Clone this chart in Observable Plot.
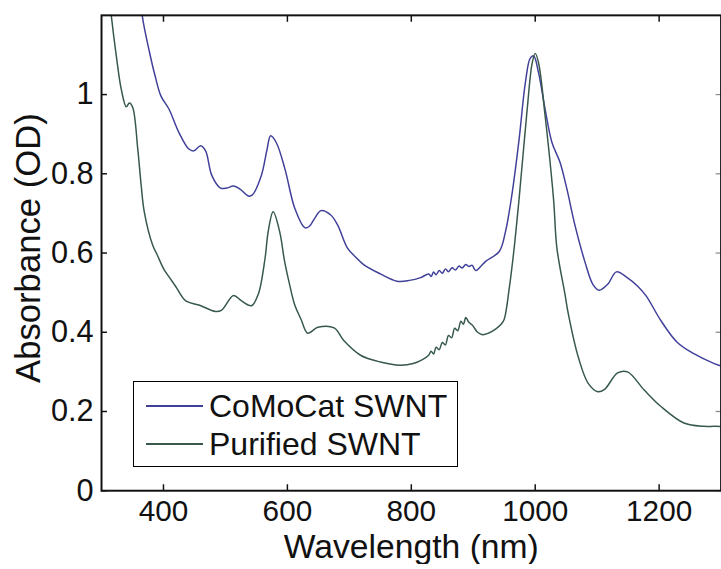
<!DOCTYPE html>
<html>
<head>
<meta charset="utf-8">
<script src="https://cdn.jsdelivr.net/npm/d3@7"></script>
<script src="https://cdn.jsdelivr.net/npm/@observablehq/plot@0.6"></script>
<style>
  html, body { margin: 0; padding: 0; background: #fff; overflow: hidden; }
  #wrap { position: relative; width: 721px; height: 569px; overflow: hidden; }
  #legend { position: absolute; left: 133px; top: 381px; width: 323px; height: 84px;
    border: 1.6px solid #000; background: #fff; font-family: "Liberation Sans", Arial, sans-serif;
    font-size: 32px; color: #111; }
  .row { position: absolute; left: 0; height: 38px; display: flex; align-items: center; }
  .row span.sw { display: inline-block; width: 57px; height: 0; border-top: 2px solid; margin-left: 12px; margin-right: 6px; }
</style>
</head>
<body>
<div id="wrap"></div>
<script>
const seriesNames = ["CoMoCat SWNT", "Purified SWNT"];
const seriesColors = ["#40409a", "#36594a"];

const comoWl = [355,366,377,386,396,409,425,441,449,460,468,478,492,502,513,524,537,543,558,567,573,582,596,612,628,635,645,654,670,681,697,710,723,750,777,797,815,828,832,836,840,845,850,855,860,866,871,877,882,888,893,898,904,912,920,942,952,963,974,984,992,997.5,1005.5,1016,1027,1040,1051,1064,1080,1093,1103,1117,1131,1149,1165,1179,1203,1229,1256,1289,1300];
const comoOd = [1.35,1.196,1.11,1.05,0.996,0.963,0.904,0.8625,0.858,0.871,0.858,0.796,0.764,0.764,0.769,0.761,0.744,0.746,0.796,0.86,0.896,0.879,0.8125,0.7125,0.664,0.667,0.69,0.707,0.696,0.671,0.6125,0.59,0.571,0.5475,0.529,0.531,0.538,0.547,0.541,0.552,0.545,0.556,0.549,0.560,0.553,0.563,0.557,0.567,0.562,0.571,0.566,0.569,0.556,0.566,0.579,0.604,0.654,0.754,0.8875,1.029,1.092,1.0975,1.054,0.9625,0.879,0.829,0.7625,0.671,0.579,0.521,0.506,0.521,0.5525,0.5375,0.517,0.492,0.429,0.375,0.346,0.321,0.315];

const purWl = [308,316,324,332,340,345,350.5,358.5,364,369,382.5,390,401,409,420,436,457,484,494,513,526,542,553,564,569,577,587.5,595.5,603.5,611.5,622,633,649,675.5,691,718,750,782,803,818,828,832,836,840,845,850,855,860,865,870,875,880,884,888,893,899,907,915,925,936,945,950,958,966,974,987,995,1000,1005.5,1016,1029.5,1035,1048,1053.5,1069.5,1085.5,1101,1112,1133,1149,1176,1203,1240,1272,1289,1300];
const purOd = [1.32,1.196,1.096,1.0125,0.969,0.979,0.967,0.8625,0.771,0.704,0.62,0.595,0.558,0.54,0.515,0.479,0.469,0.4525,0.456,0.493,0.479,0.467,0.496,0.5875,0.654,0.704,0.654,0.579,0.521,0.471,0.433,0.3975,0.4125,0.411,0.379,0.342,0.325,0.317,0.321,0.331,0.342,0.352,0.345,0.362,0.356,0.374,0.368,0.392,0.386,0.41,0.404,0.428,0.42,0.437,0.425,0.417,0.40,0.394,0.398,0.408,0.42,0.433,0.51,0.6125,0.7375,0.9625,1.079,1.104,1.079,0.946,0.7375,0.6125,0.496,0.446,0.3375,0.271,0.25,0.256,0.2975,0.3,0.254,0.2125,0.171,0.1625,0.1625,0.162];

const xTicks = [400, 600, 800, 1000, 1200];
const yTicks = [0, 0.2, 0.4, 0.6, 0.8, 1];
const xTitle = "Wavelength (nm)";
const yTitle = "Absorbance (OD)";

const como = comoWl.map((w, i) => ({wl: w, od: comoOd[i]}));
const pur = purWl.map((w, i) => ({wl: w, od: purOd[i]}));

const font = '"Liberation Sans", Arial, sans-serif';

const chart = Plot.plot({
  width: 728,
  height: 569,
  marginLeft: 102,
  marginRight: 0.4,
  marginTop: 15,
  marginBottom: 74,
  style: {fontFamily: font, background: "#fff", color: "#111"},
  x: {domain: [300, 1300]},
  y: {domain: [0, 1.2]},
  marks: [
    Plot.line(como, {x: "wl", y: "od", stroke: seriesColors[0], strokeWidth: 1.5, curve: "catmull-rom", clip: true}),
    Plot.line(pur, {x: "wl", y: "od", stroke: seriesColors[1], strokeWidth: 1.5, curve: "catmull-rom", clip: true}),
    Plot.axisX({anchor: "bottom", ticks: xTicks, tickSize: -6, strokeWidth: 1.5, text: null, label: null}),
    Plot.axisX({anchor: "top", ticks: xTicks, tickSize: -6, strokeWidth: 1.5, text: null, label: null}),
    Plot.axisX({anchor: "bottom", ticks: xTicks, tickSize: 0, tickPadding: 9, fontSize: 30, label: null, tickFormat: d => String(d)}),
    Plot.axisY({anchor: "left", ticks: yTicks, tickSize: -6, strokeWidth: 1.5, text: null, label: null}),
    Plot.axisY({anchor: "right", ticks: yTicks, tickSize: -6, strokeWidth: 1.2, strokeOpacity: 0.5, text: null, label: null}),
    Plot.axisY({anchor: "left", ticks: yTicks, tickSize: 0, tickPadding: 8, fontSize: 31, label: null, tickFormat: d => String(d)}),
    Plot.frame({stroke: "#111", strokeWidth: 2}),
    Plot.text([xTitle], {frameAnchor: "bottom", dy: 57, fontSize: 34, lineAnchor: "middle", textAnchor: "middle", fill: "#111", text: d => d}),
    Plot.text([yTitle], {frameAnchor: "left", dx: -73, dy: -5, rotate: -90, fontSize: 35, lineAnchor: "middle", textAnchor: "middle", fill: "#111", text: d => d})
  ]
});

const wrap = document.getElementById("wrap");
wrap.appendChild(chart);

const legend = document.createElement("div");
legend.id = "legend";
seriesNames.forEach((name, i) => {
  const row = document.createElement("div");
  row.className = "row";
  row.style.top = (i === 0 ? 5 : 43) + "px";
  const sw = document.createElement("span");
  sw.className = "sw";
  sw.style.borderTopColor = seriesColors[i];
  row.appendChild(sw);
  const t = document.createElement("span");
  t.textContent = name;
  row.appendChild(t);
  legend.appendChild(row);
});
wrap.appendChild(legend);
</script>
</body>
</html>
